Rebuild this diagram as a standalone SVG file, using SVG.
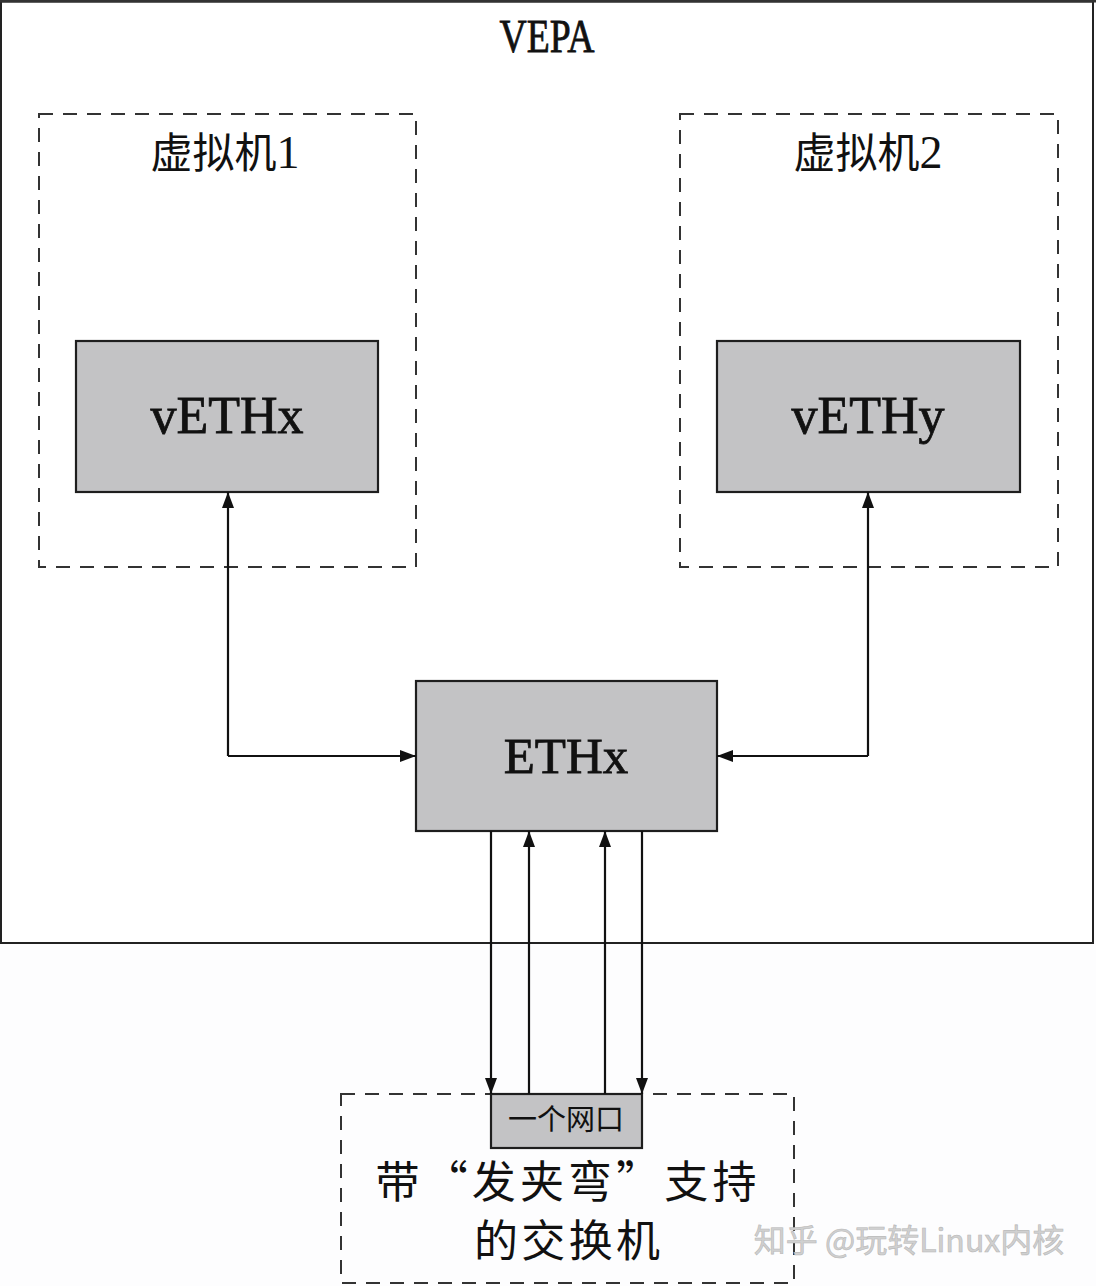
<svg xmlns="http://www.w3.org/2000/svg" width="1096" height="1286" viewBox="0 0 1096 1286">
<style>
.box{fill:#c3c3c5;stroke:#1e1e1e;stroke-width:2.2}
.dash{fill:none;stroke:#333;stroke-width:2;stroke-dasharray:14 10}
.ln{fill:none;stroke:#111;stroke-width:2.2}
.lat{font-family:"Liberation Serif","Times New Roman",serif;fill:#111;stroke:#111;stroke-width:0.8;text-anchor:middle}
.cjk{font-family:"Noto Sans CJK SC","Liberation Serif",sans-serif;fill:#111;text-anchor:middle}
</style>
<defs>
<marker id="ah" viewBox="0 0 16 12" refX="16" refY="6" markerWidth="16" markerHeight="12" markerUnits="userSpaceOnUse" orient="auto">
<path d="M0,0 L16,6 L0,12 Z" fill="#111"/>
</marker>
</defs>
<rect width="1096" height="1286" fill="#fdfdfe"/>
<g id="vepa">
<rect x="1" y="1.5" width="1092" height="941.5" fill="#fff" stroke="#222" stroke-width="2"/>
<line x1="0" y1="1" x2="1096" y2="1" stroke="#333" stroke-width="3"/>
<text x="547" y="52" class="lat" font-size="46" stroke-width="0.5" textLength="95" lengthAdjust="spacingAndGlyphs">VEPA</text>
</g>
<g id="vm1">
<rect x="39" y="114" width="377" height="453" class="dash"/>
<text x="225" y="168" class="cjk" font-size="42">虚拟机<tspan font-family="Liberation Serif" font-size="46">1</tspan></text>
</g>
<g id="vm2">
<rect x="680" y="114" width="378" height="453" class="dash"/>
<text x="868" y="168" class="cjk" font-size="42">虚拟机<tspan font-family="Liberation Serif" font-size="46">2</tspan></text>
</g>
<g id="vethx">
<rect x="76" y="341" width="302" height="151" class="box"/>
<text x="227" y="433" class="lat" font-size="52">vETHx</text>
</g>
<g id="vethy">
<rect x="717" y="341" width="303" height="151" class="box"/>
<text x="868" y="433" class="lat" font-size="52">vETHy</text>
</g>
<g id="ethx">
<rect x="416" y="681" width="301" height="150" class="box"/>
<text x="566" y="773" class="lat" font-size="51">ETHx</text>
</g>
<g id="switch">
<rect x="341" y="1094" width="453" height="189" class="dash"/>
<text x="566" y="1198" class="cjk" font-size="44" textLength="381" lengthAdjust="spacing">带“发夹弯”支持</text>
<text x="567" y="1257" class="cjk" font-size="44" textLength="186" lengthAdjust="spacing">的交换机</text>
</g>
<g id="port">
<rect x="491" y="1094" width="151" height="54" class="box"/>
<text x="566" y="1130" class="cjk" font-size="29">一个网口</text>
</g>
<g id="connectors">
<polyline points="228,756 228,492" class="ln" marker-end="url(#ah)"/>
<polyline points="228,756 416,756" class="ln" marker-end="url(#ah)"/>
<polyline points="868,756 868,492" class="ln" marker-end="url(#ah)"/>
<polyline points="868,756 717,756" class="ln" marker-end="url(#ah)"/>
<line x1="491" y1="831" x2="491" y2="1094" class="ln" marker-end="url(#ah)"/>
<line x1="529" y1="1094" x2="529" y2="831" class="ln" marker-end="url(#ah)"/>
<line x1="605" y1="1094" x2="605" y2="831" class="ln" marker-end="url(#ah)"/>
<line x1="642" y1="831" x2="642" y2="1094" class="ln" marker-end="url(#ah)"/>
</g>
<g id="watermark">
<text x="909" y="1252" font-family="Noto Sans CJK SC,sans-serif" font-size="32" fill="#d0d0d0" stroke="#b8b8b8" stroke-width="0.6" text-anchor="middle">知乎 @玩转Linux内核</text>
</g>
</svg>
